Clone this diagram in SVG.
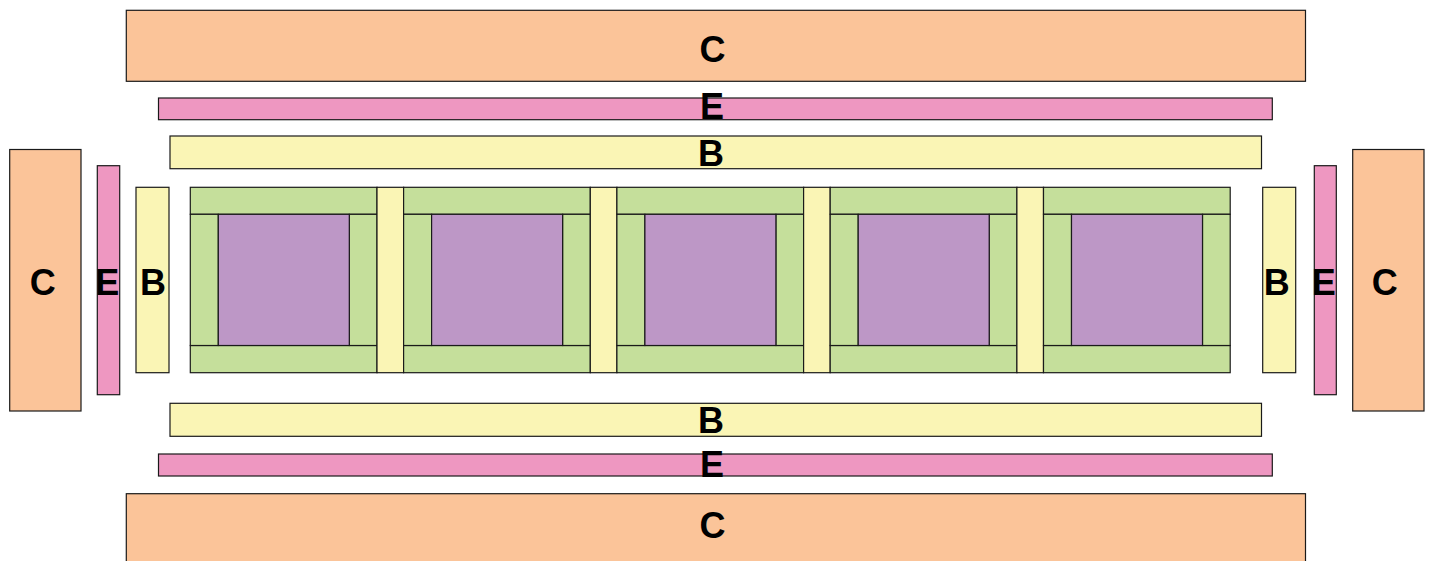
<svg xmlns="http://www.w3.org/2000/svg" width="1430" height="561" viewBox="0 0 1430 561">
<style>
rect{stroke:#1a1a1a;stroke-width:1.2}
rect.bg{stroke:none;fill:#fff}
.c{fill:#fbc499}
.e{fill:#ee97c1}
.b{fill:#faf5b5}
.g{fill:#c5df9b}
.p{fill:#bd97c6}
text{font-family:"Liberation Sans",Arial,sans-serif;font-weight:bold;font-size:36px;fill:#000;text-anchor:middle}
</style>
<rect class="bg" width="1430" height="561"/>
<g id="C-top"><rect class="c" x="126.3" y="10.3" width="1179.2" height="71"/><text x="712.5" y="62">C</text></g>
<g id="E-top"><rect class="e" x="158.5" y="98" width="1113.8" height="21.7"/><text x="712" y="119.3">E</text></g>
<g id="B-top"><rect class="b" x="170" y="136" width="1091.5" height="32.7"/><text x="711" y="166">B</text></g>
<g id="C-left"><rect class="c" x="9.7" y="149.5" width="71.3" height="261.5"/><text x="42.7" y="295">C</text></g>
<g id="E-left"><rect class="e" x="97.3" y="165.7" width="22.4" height="229"/><text x="107.3" y="295">E</text></g>
<g id="B-left"><rect class="b" x="136" y="187.3" width="33" height="185.4"/><text x="153" y="295">B</text></g>
<g id="B-right"><rect class="b" x="1262.7" y="187.3" width="33" height="185.4"/><text x="1276.7" y="295">B</text></g>
<g id="E-right"><rect class="e" x="1314.3" y="165.7" width="22" height="229"/><text x="1323.7" y="295">E</text></g>
<g id="C-right"><rect class="c" x="1352.7" y="149.5" width="71.3" height="261.5"/><text x="1384.7" y="295">C</text></g>
<g id="B-bottom"><rect class="b" x="170" y="403.3" width="1091.5" height="33"/><text x="711" y="432.7">B</text></g>
<g id="E-bottom"><rect class="e" x="158.5" y="454" width="1113.8" height="22"/><text x="712" y="477.3">E</text></g>
<g id="C-bottom"><rect class="c" x="126.3" y="493.7" width="1179.2" height="80"/><text x="712.5" y="538.3">C</text></g>
<g id="cell1">
<rect class="g" x="190.3" y="187.3" width="186.7" height="27"/>
<rect class="g" x="190.3" y="345.5" width="186.7" height="27.2"/>
<rect class="g" x="190.3" y="214.3" width="28" height="131.2"/>
<rect class="g" x="349.3" y="214.3" width="27.7" height="131.2"/>
<rect class="p" x="218.3" y="214.3" width="131" height="131.2"/>
</g>
<g id="sep1"><rect class="b" x="377" y="187.3" width="26.6" height="185.4"/></g>
<g id="cell2">
<rect class="g" x="403.6" y="187.3" width="186.7" height="27"/>
<rect class="g" x="403.6" y="345.5" width="186.7" height="27.2"/>
<rect class="g" x="403.6" y="214.3" width="28" height="131.2"/>
<rect class="g" x="562.6" y="214.3" width="27.7" height="131.2"/>
<rect class="p" x="431.6" y="214.3" width="131" height="131.2"/>
</g>
<g id="sep2"><rect class="b" x="590.3" y="187.3" width="26.6" height="185.4"/></g>
<g id="cell3">
<rect class="g" x="616.9" y="187.3" width="186.7" height="27"/>
<rect class="g" x="616.9" y="345.5" width="186.7" height="27.2"/>
<rect class="g" x="616.9" y="214.3" width="28" height="131.2"/>
<rect class="g" x="775.9" y="214.3" width="27.7" height="131.2"/>
<rect class="p" x="644.9" y="214.3" width="131" height="131.2"/>
</g>
<g id="sep3"><rect class="b" x="803.6" y="187.3" width="26.6" height="185.4"/></g>
<g id="cell4">
<rect class="g" x="830.2" y="187.3" width="186.7" height="27"/>
<rect class="g" x="830.2" y="345.5" width="186.7" height="27.2"/>
<rect class="g" x="830.2" y="214.3" width="28" height="131.2"/>
<rect class="g" x="989.2" y="214.3" width="27.7" height="131.2"/>
<rect class="p" x="858.2" y="214.3" width="131" height="131.2"/>
</g>
<g id="sep4"><rect class="b" x="1016.9" y="187.3" width="26.6" height="185.4"/></g>
<g id="cell5">
<rect class="g" x="1043.5" y="187.3" width="186.7" height="27"/>
<rect class="g" x="1043.5" y="345.5" width="186.7" height="27.2"/>
<rect class="g" x="1043.5" y="214.3" width="28" height="131.2"/>
<rect class="g" x="1202.5" y="214.3" width="27.7" height="131.2"/>
<rect class="p" x="1071.5" y="214.3" width="131" height="131.2"/>
</g>
<g id="connectors"></g>
</svg>
